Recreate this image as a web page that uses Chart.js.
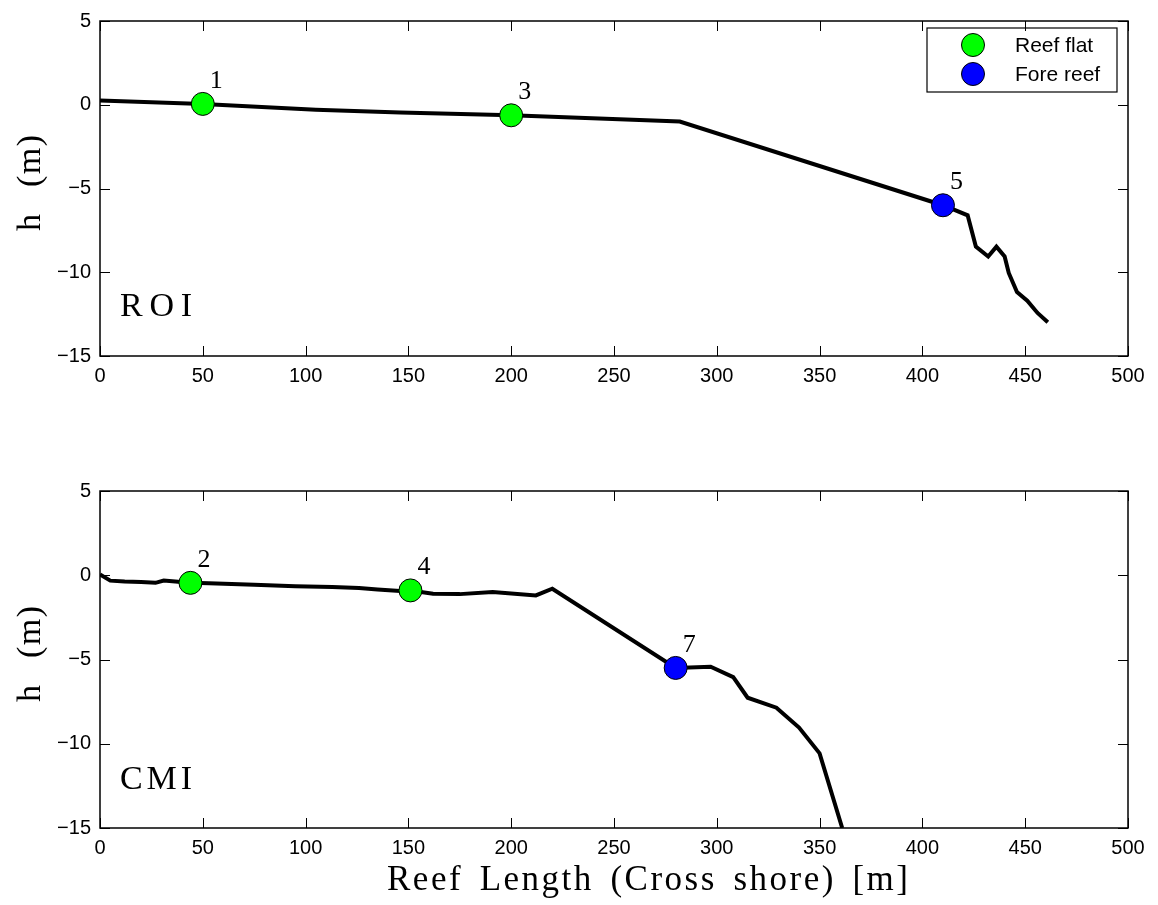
<!DOCTYPE html>
<html>
<head>
<meta charset="utf-8">
<script src="https://cdn.jsdelivr.net/npm/chart.js@4.4.1/dist/chart.umd.min.js"></script>
<style>
  body { margin: 0; background: #fff; }
  #wrap { position: relative; width: 1158px; height: 905px; }
  canvas { position: absolute; left: 0; }
</style>
</head>
<body>
<div id="wrap">
  <canvas id="roi" width="1158" height="390" style="top:0"></canvas>
  <canvas id="cmi" width="1158" height="435" style="top:470px"></canvas>
</div>
<script>
// ROI cross-shore profile
const roiX = [0, 50, 105, 146, 200, 282, 410, 422, 426, 432, 436, 440, 442, 446, 451, 456, 461];
const roiH = [0.25, 0.05, -0.3, -0.47, -0.63, -1.0, -6.0, -6.6, -8.47, -9.06, -8.47, -9.06, -10.04, -11.18, -11.7, -12.43, -12.98];
const roiFlatX = [50, 200];
const roiFlatH = [0.05, -0.63];
const roiFlatLbl = ["1", "3"];
const roiForeX = [410];
const roiForeH = [-6.0];
const roiForeLbl = ["5"];

// CMI cross-shore profile
const cmiX = [0, 5, 12, 20, 27, 31, 38, 44, 53, 75, 95, 113, 126, 135, 146, 151, 162, 175, 191, 212, 220, 280, 297, 308, 315, 329, 340, 350, 361];
const cmiH = [0.05, -0.32, -0.37, -0.4, -0.45, -0.31, -0.38, -0.45, -0.47, -0.57, -0.65, -0.7, -0.75, -0.84, -0.94, -0.9, -1.1, -1.12, -1.0, -1.2, -0.8, -5.5, -5.43, -6.05, -7.27, -7.86, -9.04, -10.57, -15.0];
const cmiFlatX = [44, 151];
const cmiFlatH = [-0.45, -0.9];
const cmiFlatLbl = ["2", "4"];
const cmiForeX = [280];
const cmiForeH = [-5.5];
const cmiForeLbl = ["7"];

const xTicks = [0, 50, 100, 150, 200, 250, 300, 350, 400, 450, 500];
const yTicks = [-15, -10, -5, 0, 5];

const legendLabels = ["Reef flat", "Fore reef"];
const flatColor = "#00ff00";
const foreColor = "#0000ff";

Chart.defaults.color = "#000";
Chart.defaults.font.family = "'Liberation Sans', Arial, sans-serif";
Chart.defaults.font.size = 20;

const pts = (xs, ys) => xs.map((x, i) => ({ x: x, y: ys[i] }));

// latex-ish text: small fixed letter spacing, the rest of the width goes to the spaces
const spacedText = (ctx, str, x, y, width, ls) => {
  const chars = [...str];
  const widths = chars.map((c) => ctx.measureText(c).width);
  const total = widths.reduce((a, b) => a + b, 0) + ls * (chars.length - 1);
  const nsp = chars.filter((c) => c === " ").length;
  const extra = nsp ? (width - total) / nsp : 0;
  const gap = nsp ? ls : (width - total + ls * (chars.length - 1)) / Math.max(chars.length - 1, 1);
  let cx = x;
  chars.forEach((c, i) => {
    ctx.fillText(c, cx, y);
    cx += widths[i] + gap + (c === " " ? extra : 0);
  });
};

// box + inward ticks on all four sides, like the matlab axes
const frame = {
  id: "frame",
  afterDraw(chart) {
    const { ctx, chartArea: a, scales } = chart;
    ctx.save();
    ctx.strokeStyle = "#000";
    ctx.lineWidth = 1;
    ctx.beginPath();
    xTicks.forEach((v) => {
      const px = Math.round(scales.x.getPixelForValue(v)) + 0.5;
      ctx.moveTo(px, a.bottom);
      ctx.lineTo(px, a.bottom - 10);
      ctx.moveTo(px, a.top);
      ctx.lineTo(px, a.top + 10);
    });
    yTicks.forEach((v) => {
      const py = Math.round(scales.y.getPixelForValue(v)) + 0.5;
      ctx.moveTo(a.left, py);
      ctx.lineTo(a.left + 10, py);
      ctx.moveTo(a.right, py);
      ctx.lineTo(a.right - 10, py);
    });
    ctx.stroke();
    ctx.lineWidth = 1.5;
    ctx.strokeRect(a.left, a.top, a.right - a.left, a.bottom - a.top);
    ctx.restore();
  },
};

// numbers next to the instrument markers, site name, axis titles
const annotate = {
  id: "annotate",
  afterDatasetsDraw(chart, args, opts) {
    const { ctx } = chart;
    ctx.save();
    ctx.fillStyle = "#000";
    ctx.textAlign = "left";
    ctx.textBaseline = "alphabetic";
    ctx.font = "26px 'Liberation Serif', serif";
    [1, 2].forEach((di) => {
      const meta = chart.getDatasetMeta(di);
      const lbls = chart.data.datasets[di].pointLabels;
      meta.data.forEach((el, i) => {
        ctx.fillText(lbls[i], el.x + 7, el.y - 16);
      });
    });

    ctx.font = "34px 'Liberation Serif', serif";
    spacedText(ctx, opts.site, 120, opts.siteY, 72, 0);

    ctx.save();
    ctx.translate(40, opts.yTitleY);
    ctx.rotate(-Math.PI / 2);
    ctx.font = "34px 'Liberation Serif', serif";
    spacedText(ctx, "h (m)", -48, 0, 96, 1.5);
    ctx.restore();

    if (opts.xTitle) {
      ctx.font = "35px 'Liberation Serif', serif";
      spacedText(ctx, opts.xTitle, 387, opts.xTitleY, 521, 2.5);
    }

    if (opts.legend) {
      ctx.fillStyle = "#fff";
      ctx.fillRect(927, 28, 190, 64);
      ctx.strokeStyle = "#000";
      ctx.lineWidth = 1.2;
      ctx.strokeRect(927, 28, 190, 64);
      const cols = [flatColor, foreColor];
      const ys = [45, 74];
      ctx.font = "21px 'Liberation Sans', Arial, sans-serif";
      ctx.textBaseline = "middle";
      legendLabels.forEach((t, i) => {
        ctx.beginPath();
        ctx.arc(973, ys[i], 11.5, 0, Math.PI * 2);
        ctx.fillStyle = cols[i];
        ctx.fill();
        ctx.lineWidth = 1;
        ctx.stroke();
        ctx.fillStyle = "#000";
        ctx.fillText(t, 1015, ys[i] + 1);
      });
    }
    ctx.restore();
  },
};

const minus = (v) => String(v).replace("-", "\u2212");

const makeChart = (id, prof, flat, fore, ann, pad, xAxisH) => {
  new Chart(document.getElementById(id), {
    type: "scatter",
    data: {
      datasets: [
        {
          data: prof,
          showLine: true,
          borderColor: "#000",
          borderWidth: 4,
          pointRadius: 0,
          tension: 0,
          order: 2,
        },
        {
          data: flat.data,
          pointLabels: flat.labels,
          pointRadius: 11.5,
          pointBackgroundColor: flatColor,
          pointBorderColor: "#000",
          pointBorderWidth: 1,
          order: 0,
        },
        {
          data: fore.data,
          pointLabels: fore.labels,
          pointRadius: 11.5,
          pointBackgroundColor: foreColor,
          pointBorderColor: "#000",
          pointBorderWidth: 1,
          order: 1,
        },
      ],
    },
    options: {
      responsive: false,
      animation: false,
      devicePixelRatio: 1,
      layout: { padding: pad },
      plugins: {
        legend: { display: false },
        tooltip: { enabled: false },
        annotate: ann,
      },
      scales: {
        x: {
          type: "linear",
          min: 0,
          max: 500,
          grid: { display: false, drawTicks: false },
          border: { display: false },
          ticks: { stepSize: 50, padding: 8, maxRotation: 0, callback: minus },
          afterFit: (s) => { s.height = xAxisH; },
        },
        y: {
          type: "linear",
          min: -15,
          max: 5,
          grid: { display: false, drawTicks: false },
          border: { display: false },
          ticks: { stepSize: 5, padding: 9, callback: minus },
          afterFit: (s) => { s.width = 100; },
        },
      },
    },
    plugins: [frame, annotate],
  });
};

makeChart(
  "roi",
  pts(roiX, roiH),
  { data: pts(roiFlatX, roiFlatH), labels: roiFlatLbl },
  { data: pts(roiForeX, roiForeH), labels: roiForeLbl },
  { site: "ROI", siteY: 316, yTitleY: 183, legend: true },
  { top: 16, right: 30, left: 0, bottom: 0 },
  34
);

makeChart(
  "cmi",
  pts(cmiX, cmiH),
  { data: pts(cmiFlatX, cmiFlatH), labels: cmiFlatLbl },
  { data: pts(cmiForeX, cmiForeH), labels: cmiForeLbl },
  { site: "CMI", siteY: 319, yTitleY: 184, xTitle: "Reef Length (Cross shore) [m]", xTitleY: 420 },
  { top: 18, right: 30, left: 0, bottom: 0 },
  77
);
</script>
</body>
</html>
